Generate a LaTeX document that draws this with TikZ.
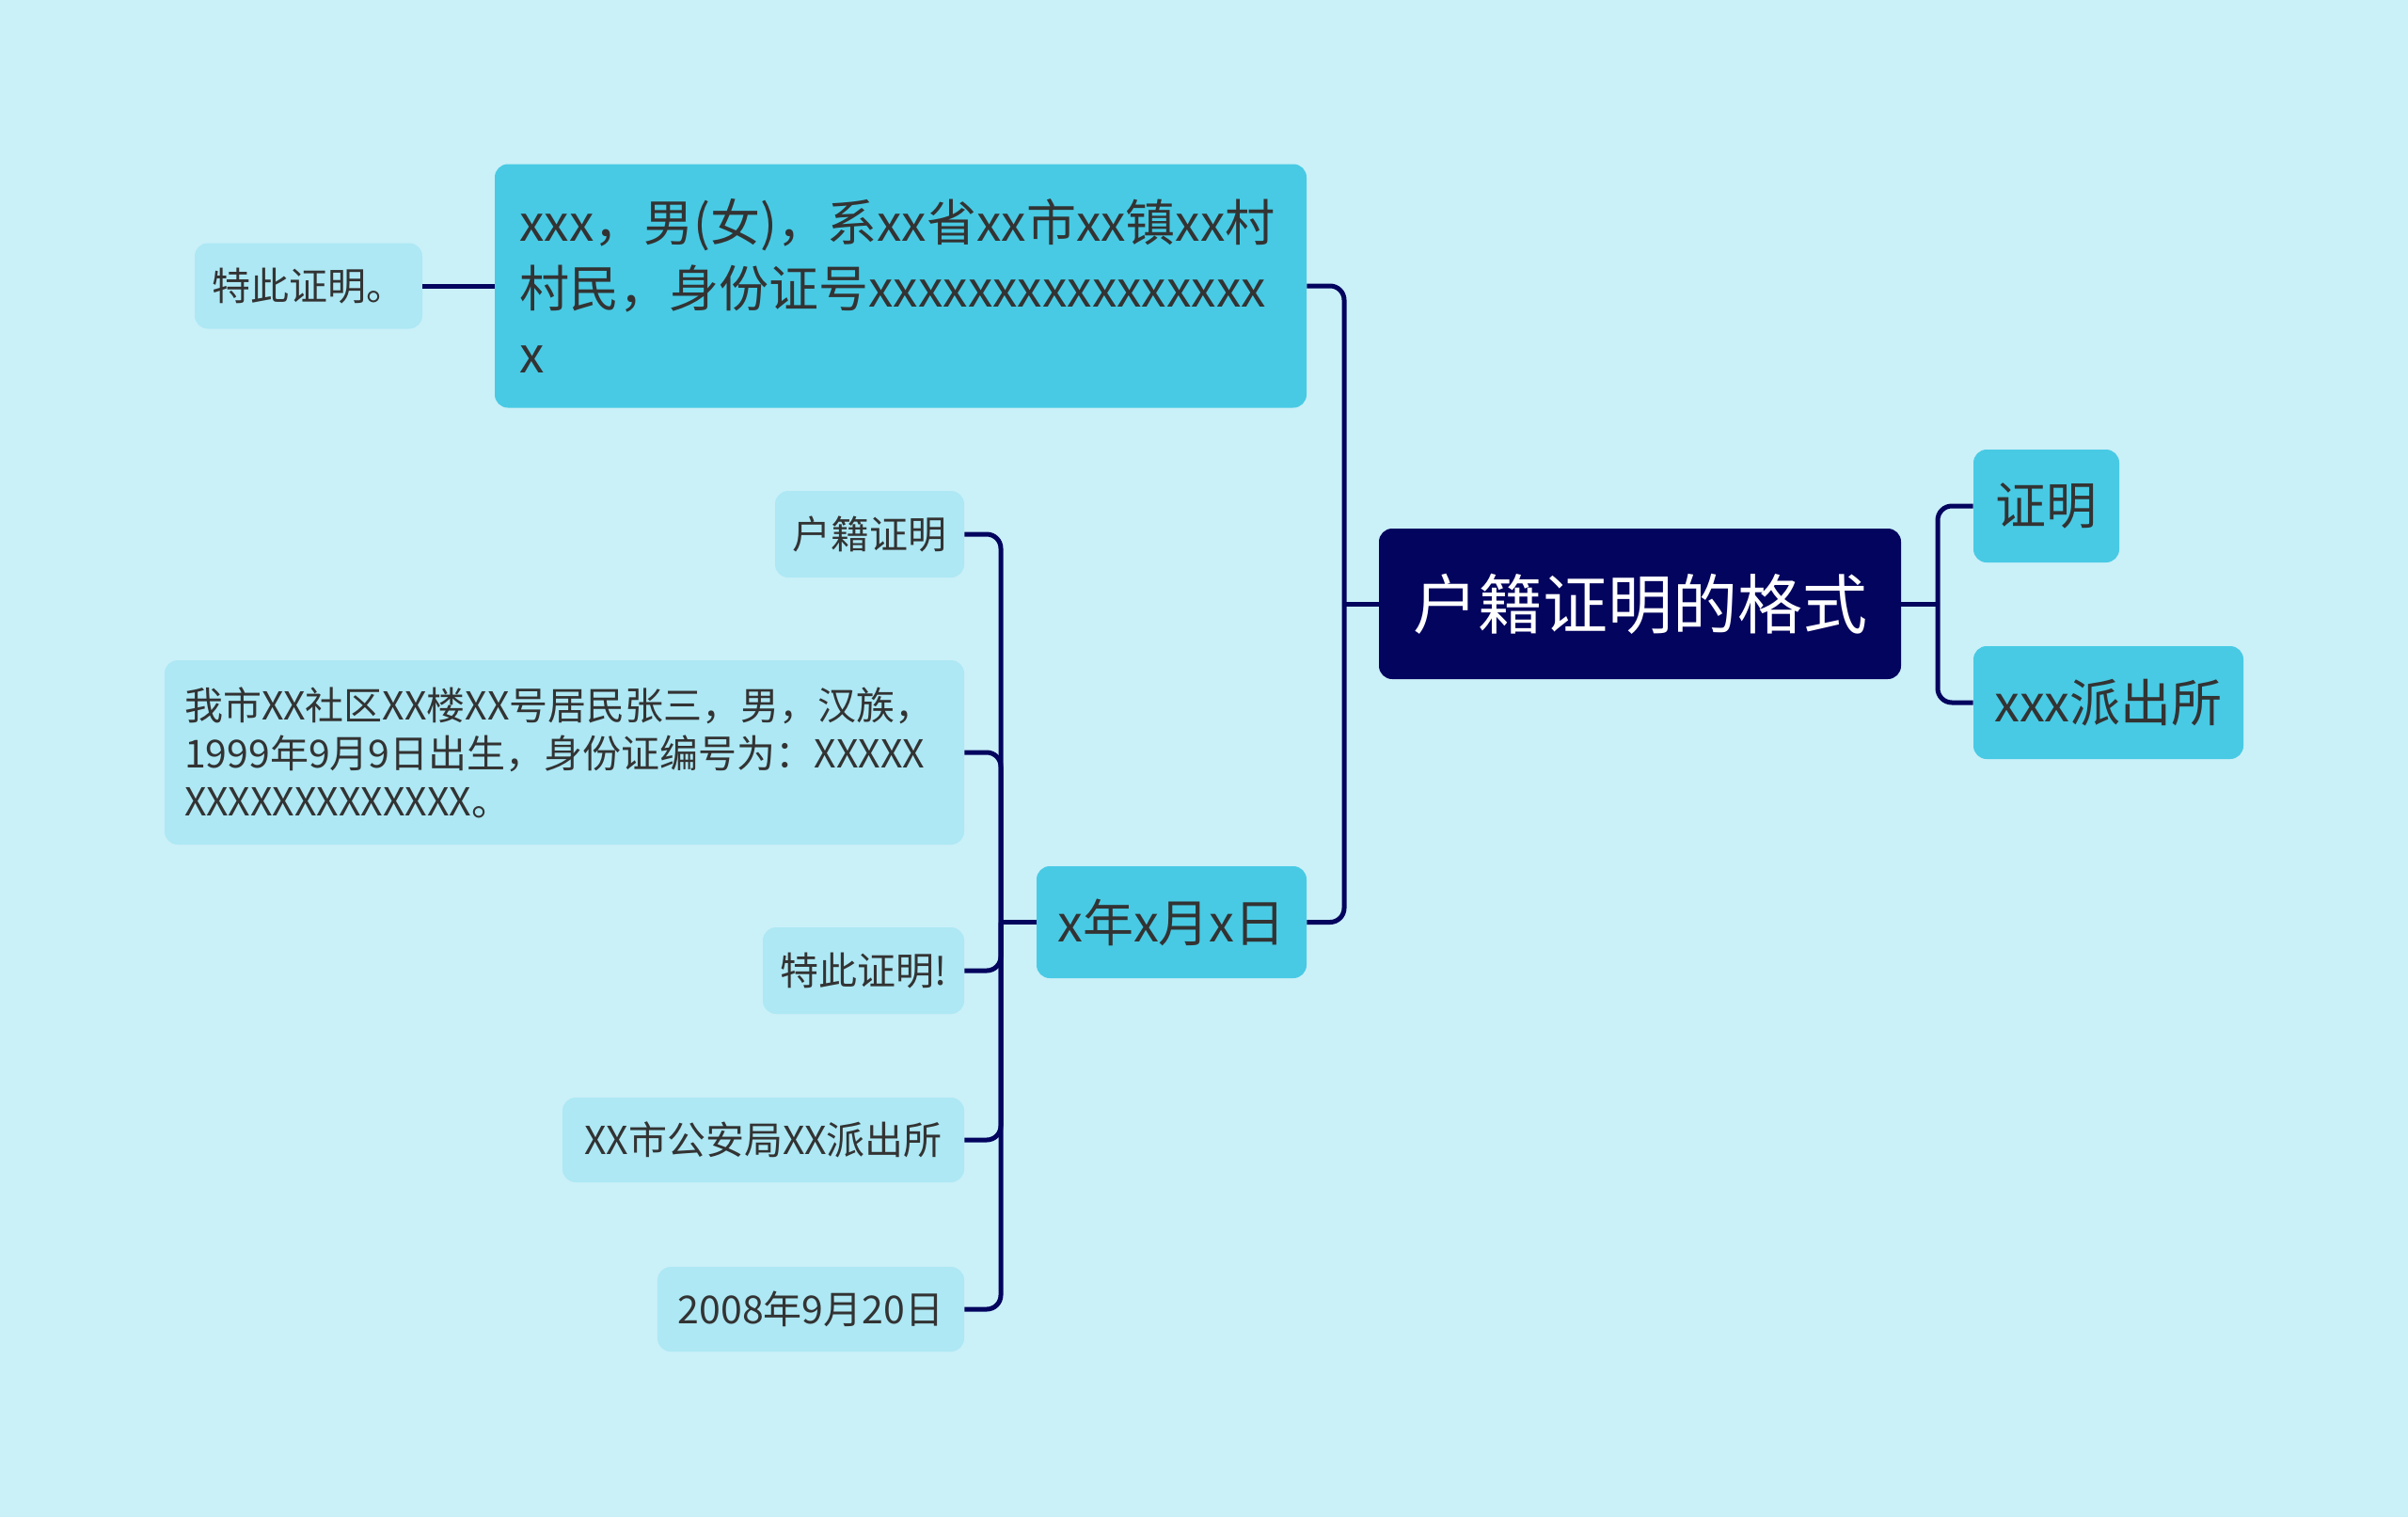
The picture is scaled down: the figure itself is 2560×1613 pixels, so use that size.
\documentclass[tikz,border=0pt]{standalone}
\usepackage{fontspec}
\setmainfont{Noto Sans CJK SC}
\definecolor{bg}{HTML}{CAF0F8}
\definecolor{navy}{HTML}{03045E}
\definecolor{cone}{HTML}{48CAE4}
\definecolor{ctwo}{HTML}{ADE8F4}
\definecolor{txt}{HTML}{333333}
\tikzset{
  conn/.style={draw=navy, line width=2.5pt},
  branchline/.style={conn, rounded corners=7.5pt},
  rootbox/.style={fill=navy, rounded corners=7pt, text=white, font=\fontsize{34.5}{40}\selectfont, minimum width=277.5pt, minimum height=80pt, inner sep=0pt},
  lvone/.style={fill=cone, rounded corners=7pt, text=txt, font=\fontsize{27}{35}\selectfont, inner sep=0pt},
  lvtwo/.style={fill=ctwo, rounded corners=7pt, text=txt, font=\fontsize{20.5}{25.5}\selectfont, inner sep=0pt},
}
\begin{document}
\begin{tikzpicture}[x=0.5pt,y=-0.5pt]
\fill[bg] (0,0) rectangle (2560,1613);
\useasboundingbox (0,0) rectangle (2560,1613);

% root and right side
\node[rootbox] (root) at (1743.5,642) {户籍证明的格式};
\node[lvone, minimum width=77.5pt, minimum height=60pt] (zm) at (2175.5,538) {证明};
\node[lvone, minimum width=143.5pt, minimum height=60pt] (pcs) at (2241.5,747) {xxx派出所};

% left level one
\node[lvone, font=\fontsize{26.5}{35}\selectfont, minimum height=129.5pt, text width=405pt, inner xsep=13.25pt, align=left] (big) at (957.5,304) {xxx，男(女)，系xx省xx市xx镇xx村\\村民，身份证号xxxxxxxxxxxxxxxx\\x};
\node[lvtwo, minimum width=121pt, minimum height=45.5pt] (tcone) at (328,304) {特此证明。};
\node[lvone, minimum width=143.5pt, minimum height=59.5pt] (date) at (1245.5,980.5) {x年x月x日};

% children of date
\node[lvtwo, minimum width=100.5pt, minimum height=46pt] (hj) at (924.5,568) {户籍证明};
\node[lvtwo, minimum height=98pt, text width=404pt, inner xsep=10.5pt, align=left] (para) at (600,800) {我市XX社区XX楼XX号居民张三，男，汉族，\\1999年9月9日出生，身份证编号为：XXXXX\\XXXXXXXXXXXXX。};
\node[lvtwo, minimum width=107pt, minimum height=46pt] (tctwo) at (918,1032) {特此证明!};
\node[lvtwo, minimum width=213.5pt, minimum height=45pt] (pol) at (811.5,1212) {XX市公安局XX派出所};
\node[lvtwo, minimum width=163pt, minimum height=45pt] (dtwo) at (862,1392) {2008年9月20日};

% connectors
\coordinate (jl) at (1429,642);
\coordinate (jr) at (2060,642);
\coordinate (jd) at (1064,980.5);
\draw[conn] (root.west) -- (jl);
\draw[branchline] (jl) |- (big.east);
\draw[branchline] (jl) |- (date.east);
\draw[conn] (root.east) -- (jr);
\draw[branchline] (jr) |- (zm.west);
\draw[branchline] (jr) |- (pcs.west);
\draw[conn] (big.west) -- (tcone.east);
\draw[conn] (date.west) -- (jd);
\draw[branchline] (jd) |- (hj.east);
\draw[branchline] (jd) |- (para.east);
\draw[branchline] (jd) |- (tctwo.east);
\draw[branchline] (jd) |- (pol.east);
\draw[branchline] (jd) |- (dtwo.east);
\end{tikzpicture}
\end{document}
